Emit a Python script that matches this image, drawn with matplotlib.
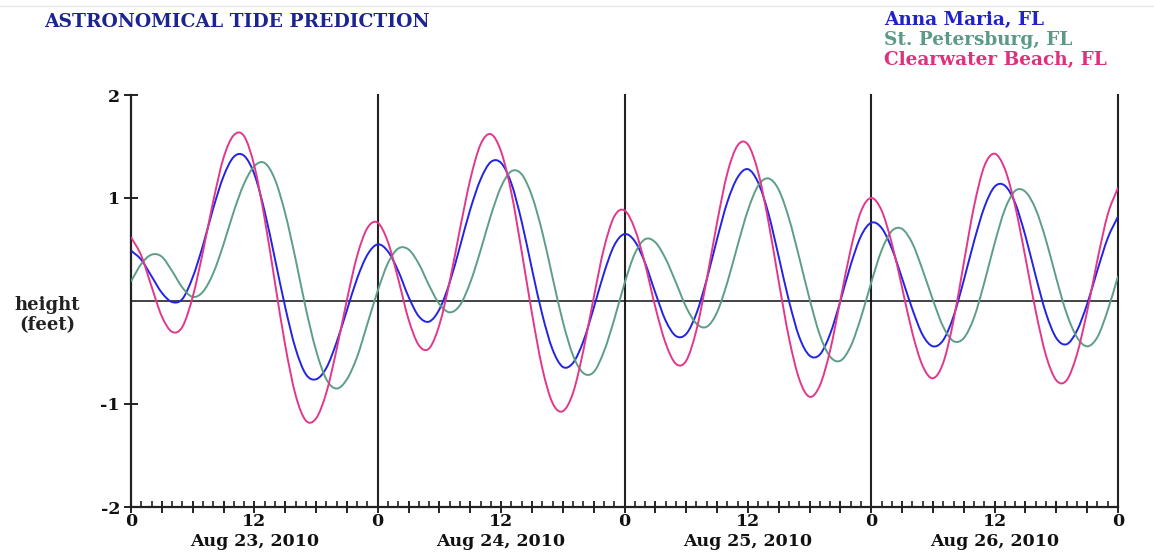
import matplotlib
matplotlib.use("Agg")
import numpy as np
import matplotlib.pyplot as plt
from matplotlib.ticker import MultipleLocator, FixedLocator, FixedFormatter
from matplotlib.lines import Line2D
from matplotlib.path import Path
from matplotlib.patches import PathPatch

# ---------------- data (hourly heights in feet, hour 0 = Aug 23 00:00) ----------------
hours = list(range(97))

anna_maria = [
    0.49, 0.40, 0.24, 0.08, -0.01, 0.02, 0.23, 0.54, 0.90, 1.21,
    1.40, 1.41, 1.23, 0.87, 0.41, -0.06, -0.46, -0.71, -0.76, -0.65,
    -0.40, -0.09, 0.22, 0.45, 0.55, 0.48, 0.29, 0.04, -0.15, -0.20,
    -0.08, 0.18, 0.53, 0.89, 1.18, 1.35, 1.34, 1.14, 0.77, 0.31,
    -0.13, -0.47, -0.64, -0.60, -0.39, -0.07, 0.27, 0.54, 0.65, 0.58,
    0.37, 0.08, -0.19, -0.34, -0.32, -0.12, 0.21, 0.60, 0.96, 1.20,
    1.28, 1.15, 0.85, 0.43, 0.00, -0.35, -0.53, -0.52, -0.32, 0.00,
    0.35, 0.63, 0.76, 0.71, 0.51, 0.22, -0.08, -0.33, -0.44, -0.38,
    -0.15, 0.20, 0.58, 0.91, 1.11, 1.12, 0.95, 0.63, 0.24, -0.12,
    -0.36, -0.42, -0.29, -0.03, 0.30, 0.61, 0.82,
]

st_petersburg = [
    0.19, 0.36, 0.45, 0.43, 0.29, 0.13, 0.04, 0.09, 0.27, 0.55,
    0.87, 1.14, 1.31, 1.34, 1.18, 0.85, 0.41, -0.07, -0.48, -0.76,
    -0.85, -0.76, -0.54, -0.22, 0.10, 0.37, 0.51, 0.50, 0.36, 0.15,
    -0.03, -0.11, -0.04, 0.18, 0.49, 0.83, 1.11, 1.26, 1.23, 1.02,
    0.67, 0.23, -0.20, -0.53, -0.70, -0.69, -0.49, -0.18, 0.17, 0.46,
    0.60, 0.57, 0.41, 0.18, -0.06, -0.22, -0.25, -0.11, 0.18, 0.54,
    0.88, 1.12, 1.19, 1.08, 0.80, 0.42, 0.02, -0.33, -0.54, -0.58,
    -0.44, -0.16, 0.18, 0.49, 0.68, 0.70, 0.56, 0.30, 0.01, -0.25,
    -0.39, -0.36, -0.16, 0.18, 0.56, 0.89, 1.07, 1.06, 0.89, 0.59,
    0.22, -0.12, -0.35, -0.44, -0.35, -0.09, 0.24,
]

clearwater_beach = [
    0.62, 0.44, 0.14, -0.15, -0.30, -0.25, 0.04, 0.48, 0.97, 1.39,
    1.61, 1.60, 1.31, 0.80, 0.18, -0.43, -0.91, -1.16, -1.14, -0.89,
    -0.47, 0.01, 0.44, 0.71, 0.76, 0.57, 0.21, -0.18, -0.43, -0.46,
    -0.23, 0.19, 0.70, 1.18, 1.52, 1.62, 1.45, 1.05, 0.48, -0.12,
    -0.65, -0.99, -1.07, -0.89, -0.48, 0.03, 0.51, 0.82, 0.88, 0.70,
    0.36, -0.06, -0.41, -0.61, -0.58, -0.28, 0.21, 0.76, 1.24, 1.51,
    1.52, 1.25, 0.77, 0.19, -0.36, -0.76, -0.93, -0.82, -0.48, 0.01,
    0.50, 0.87, 1.00, 0.88, 0.56, 0.13, -0.31, -0.63, -0.75, -0.60,
    -0.19, 0.37, 0.92, 1.31, 1.43, 1.28, 0.92, 0.42, -0.10, -0.53,
    -0.77, -0.77, -0.52, -0.10, 0.40, 0.84, 1.10,
]

station_names = ["Anna Maria, FL", "St. Petersburg, FL", "Clearwater Beach, FL"]
station_colors = ["#2323e6", "#5c9e86", "#e2388c"]
legend_colors = ["#2222cc", "#5c9a84", "#e0307c"]

day_boundaries = [24, 48, 72, 96]
day_labels = ["Aug 23, 2010", "Aug 24, 2010", "Aug 25, 2010", "Aug 26, 2010"]
x_tick_pos = list(range(0, 97, 3))
x_tick_labels = [str(h % 24) if h % 12 == 0 else "" for h in x_tick_pos]
y_tick_pos = [-2, -1, 1, 2]
y_tick_labels = ["-2", "-1", "1", "2"]

title_text = "ASTRONOMICAL TIDE PREDICTION"
ylabel_text = "height\n(feet)"


def smooth_path(xs, ys):
    """Cubic Bezier path (Catmull-Rom control points) passing through every data point."""
    p = np.column_stack([np.asarray(xs, float), np.asarray(ys, float)])
    ext = np.vstack([2 * p[0] - p[1], p, 2 * p[-1] - p[-2]])
    verts = [p[0]]
    codes = [Path.MOVETO]
    for i in range(len(p) - 1):
        p0, p1, p2, p3 = ext[i], ext[i + 1], ext[i + 2], ext[i + 3]
        verts += [p1 + (p2 - p0) / 6.0, p2 - (p3 - p1) / 6.0, p2]
        codes += [Path.CURVE4] * 3
    return Path(np.array(verts), codes)


# ---------------- figure ----------------
W, H = 1154, 552
fig = plt.figure(figsize=(W / 100, H / 100), dpi=100)
fig.patch.set_facecolor("white")
FONT = "DejaVu Serif"

x0, x1, ytop, ybot = 131, 1118, 95, 507
ax = fig.add_axes([x0 / W, 1 - ybot / H, (x1 - x0) / W, (ybot - ytop) / H])
ax.set_xlim(0, 96)
ax.set_ylim(-2, 2)

for sp in ["top", "right"]:
    ax.spines[sp].set_visible(False)
ax.spines["left"].set_linewidth(1.6)
ax.spines["bottom"].set_linewidth(1.6)
ax.spines["left"].set_color("#222222")
ax.spines["bottom"].set_color("#222222")

for d in day_boundaries:
    ax.axvline(d, color="#222222", lw=1.5, zorder=1, clip_on=False)
ax.axhline(0, color="#111111", lw=1.1, zorder=1)

series = [anna_maria, st_petersburg, clearwater_beach]
order = [1, 0, 2]
for i in order:
    ax.add_patch(PathPatch(smooth_path(hours, series[i]), facecolor="none",
                           edgecolor=station_colors[i], lw=1.4, zorder=3 + i,
                           clip_on=True))

# ticks
ax.xaxis.set_major_locator(FixedLocator(x_tick_pos))
ax.xaxis.set_major_formatter(FixedFormatter(x_tick_labels))
ax.xaxis.set_minor_locator(MultipleLocator(1))
ax.tick_params(axis="x", which="major", direction="inout", length=9, width=1.4,
               color="#222222", pad=0)
ax.tick_params(axis="x", which="minor", direction="in", length=4.5, width=1.2,
               color="#222222")
ax.set_yticks(y_tick_pos)
ax.set_yticklabels(y_tick_labels)
ax.tick_params(axis="y", which="major", direction="inout", length=10, width=1.4,
               color="#222222", pad=3)
for lab in ax.get_xticklabels() + ax.get_yticklabels():
    lab.set_fontfamily(FONT)
    lab.set_fontweight("bold")
    lab.set_fontsize(12.5)
    lab.set_color("#111111")

for k, lab in enumerate(day_labels):
    ax.annotate(lab, xy=(12 + 24 * k, 0), xycoords=("data", "axes fraction"),
                xytext=(0, -18.5), textcoords="offset points", ha="center", va="top",
                fontfamily=FONT, fontweight="bold", fontsize=12.5, color="#111111")

# y label
fig.text(47 / W, 1 - 315 / H, ylabel_text, ha="center", va="center",
         fontfamily=FONT, fontweight="bold", fontsize=13, color="#222222",
         linespacing=1.2)

# title
fig.text(44 / W, 1 - 22 / H, title_text, ha="left", va="center",
         fontfamily=FONT, fontweight="bold", fontsize=13.5, color="#1c2490")

# legend texts
for k, name in enumerate(station_names):
    fig.text(884 / W, 1 - (20 + 20 * k) / H, name, ha="left", va="center",
             fontfamily=FONT, fontweight="bold", fontsize=13.3, color=legend_colors[k])

# faint top rule
fig.add_artist(Line2D([0, 1], [1 - 6 / H, 1 - 6 / H], transform=fig.transFigure,
                      color="#e6e6e6", lw=1))

fig.savefig("out.png", dpi=100)
